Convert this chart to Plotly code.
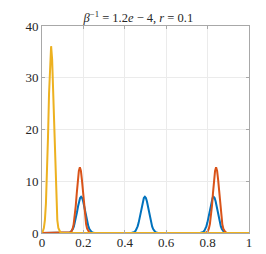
import plotly.graph_objects as go

# Blue series (three peaks)
blue_x = [0.0,
          0.124, 0.129, 0.134, 0.139, 0.144, 0.149, 0.154, 0.159, 0.164, 0.169, 0.174, 0.179, 0.184, 0.189,
          0.194, 0.199, 0.204, 0.209, 0.214, 0.219, 0.224, 0.229, 0.234, 0.239, 0.244, 0.249, 0.254,
          0.432, 0.437, 0.442, 0.447, 0.452, 0.457, 0.462, 0.467, 0.472, 0.477, 0.482, 0.487, 0.492, 0.497,
          0.502, 0.507, 0.512, 0.517, 0.522, 0.527, 0.532, 0.537, 0.542, 0.547, 0.552, 0.557, 0.562,
          0.764, 0.769, 0.774, 0.779, 0.784, 0.789, 0.794, 0.799, 0.804, 0.809, 0.814, 0.819, 0.824, 0.829,
          0.834, 0.839, 0.844, 0.849, 0.854, 0.859, 0.864, 0.869, 0.874, 0.879, 0.884, 0.889, 0.894,
          1.0]
blue_y = [0.0,
          0.02, 0.05, 0.11, 0.22, 0.42, 0.76, 1.28, 2.01, 2.94, 4.02, 5.12, 6.10, 6.76, 7.0,
          6.76, 6.10, 5.12, 4.02, 2.94, 2.01, 1.28, 0.76, 0.42, 0.22, 0.11, 0.05, 0.02,
          0.02, 0.05, 0.11, 0.22, 0.42, 0.76, 1.28, 2.01, 2.94, 4.02, 5.12, 6.10, 6.76, 7.0,
          6.76, 6.10, 5.12, 4.02, 2.94, 2.01, 1.28, 0.76, 0.42, 0.22, 0.11, 0.05, 0.02,
          0.02, 0.05, 0.11, 0.22, 0.42, 0.76, 1.28, 2.01, 2.94, 4.02, 5.12, 6.10, 6.76, 7.0,
          6.76, 6.10, 5.12, 4.02, 2.94, 2.01, 1.28, 0.76, 0.42, 0.22, 0.11, 0.05, 0.02,
          0.0]

# Red series (two peaks)
red_x = [0.0,
         0.128, 0.133, 0.138, 0.143, 0.148, 0.153, 0.158, 0.163, 0.168, 0.173, 0.178, 0.183,
         0.188, 0.193, 0.198, 0.203, 0.208, 0.213, 0.218, 0.223, 0.228, 0.233, 0.238,
         0.786, 0.791, 0.796, 0.801, 0.806, 0.811, 0.816, 0.821, 0.826, 0.831, 0.836, 0.841,
         0.846, 0.851, 0.856, 0.861, 0.866, 0.871, 0.876, 0.881, 0.886, 0.891, 0.896,
         1.0]
red_y = [0.0,
         0.02, 0.05, 0.14, 0.36, 0.84, 1.72, 3.17, 5.22, 7.70, 10.2, 12.0, 12.7,
         12.0, 10.2, 7.70, 5.22, 3.17, 1.72, 0.84, 0.36, 0.14, 0.05, 0.02,
         0.02, 0.05, 0.14, 0.36, 0.84, 1.72, 3.17, 5.22, 7.70, 10.2, 12.0, 12.7,
         12.0, 10.2, 7.70, 5.22, 3.17, 1.72, 0.84, 0.36, 0.14, 0.05, 0.02,
         0.0]

# Yellow series (one tall peak)
yellow_x = [0.0, 0.004, 0.009, 0.014, 0.019, 0.024, 0.029, 0.034, 0.039, 0.044,
            0.049, 0.054, 0.059, 0.064, 0.069, 0.074, 0.079, 0.084, 0.089, 0.094, 1.0]
yellow_y = [0.12, 0.32, 0.96, 2.5, 5.7, 11.1, 18.5, 26.9, 33.5, 36.1,
            33.5, 26.9, 18.5, 11.1, 5.7, 2.5, 0.96, 0.32, 0.09, 0.02, 0.0]

x_ticks = [0, 0.2, 0.4, 0.6, 0.8, 1]
x_tick_labels = ["0", "0.2", "0.4", "0.6", "0.8", "1"]
y_ticks = [0, 10, 20, 30, 40]
y_tick_labels = ["0", "10", "20", "30", "40"]

title_text = "<i>β</i><sup>−1</sup> = 1.2<i>e</i> − 4, <i>r</i> = 0.1"

SERIF = "Liberation Serif"

fig = go.Figure()
for xs, ys, col in [(blue_x, blue_y, "#0072BD"),
                    (red_x, red_y, "#D95319"),
                    (yellow_x, yellow_y, "#EDB120")]:
    fig.add_trace(go.Scatter(x=xs, y=ys, mode="lines",
                             line=dict(color=col, width=2), showlegend=False,
                             hoverinfo="skip"))

axis_common = dict(
    showgrid=True, gridcolor="#ebebeb", gridwidth=1,
    showline=True, linecolor="#a8a8a8", linewidth=1, mirror="ticks",
    ticks="inside", ticklen=3, tickcolor="#a8a8a8",
    zeroline=False,
    tickfont=dict(family=SERIF, size=13, color="#262626"),
)

fig.update_layout(
    width=266, height=254,
    margin=dict(l=34, r=25, t=18, b=29),
    paper_bgcolor="white", plot_bgcolor="white",
    font=dict(family=SERIF),
    title=dict(text=title_text, x=0.49, xanchor="center", y=0.962, yanchor="middle",
               font=dict(family=SERIF, size=12.5, color="#262626")),
    xaxis=dict(range=[0, 1], tickvals=x_ticks, ticktext=x_tick_labels,
               ticklabelstandoff=-3, **axis_common),
    yaxis=dict(range=[0, 40], tickvals=y_ticks, ticktext=y_tick_labels, **axis_common),
)

fig.write_html("out.html")
